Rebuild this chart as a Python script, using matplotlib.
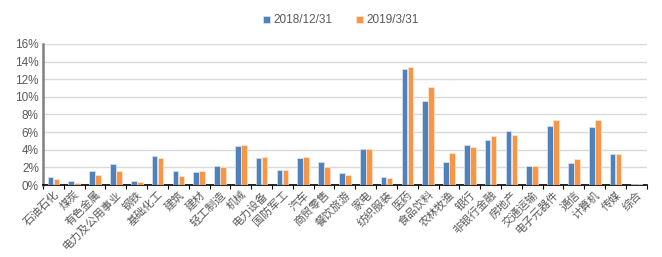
import matplotlib
matplotlib.use("Agg")
import matplotlib.pyplot as plt
import numpy as np

plt.rcParams['font.family'] = ['Noto Sans CJK SC', 'DejaVu Sans']

categories = ["石油石化", "煤炭", "有色金属", "电力及公用事业", "钢铁", "基础化工", "建筑", "建材",
              "轻工制造", "机械", "电力设备", "国防军工", "汽车", "商贸零售", "餐饮旅游", "家电",
              "纺织服装", "医药", "食品饮料", "农林牧渔", "银行", "非银行金融", "房地产", "交通运输",
              "电子元器件", "通信", "计算机", "传媒", "综合"]
s2018 = [0.90, 0.45, 1.55, 2.35, 0.45, 3.30, 1.60, 1.48, 2.12, 4.39, 3.03, 1.74, 3.10, 2.58, 1.36,
         4.13, 0.87, 13.18, 9.55, 2.61, 4.55, 5.15, 6.17, 2.12, 6.70, 2.46, 6.63, 3.52, 0.08]
s2019 = [0.72, 0.27, 1.17, 1.60, 0.38, 3.07, 1.06, 1.60, 2.00, 4.50, 3.18, 1.70, 3.18, 2.05, 1.14,
         4.13, 0.80, 13.37, 11.10, 3.64, 4.28, 5.53, 5.64, 2.16, 7.42, 2.92, 7.39, 3.48, 0.15]
series_names = ["2018/12/31", "2019/3/31"]
yticks = [0, 2, 4, 6, 8, 10, 12, 14, 16]

fig = plt.figure(figsize=(6.62, 2.57), dpi=100)
ax = fig.add_axes([0.065, 0.28, 0.912, 0.549])

x = np.arange(len(categories))
w = 0.27
c1, c2 = "#4F81BD", "#F79646"
b1 = ax.bar(x - 0.145, s2018, width=w, color=c1, edgecolor="#DCE6F2", linewidth=0.5, label=series_names[0], zorder=3)
b2 = ax.bar(x + 0.145, s2019, width=w, color=c2, edgecolor="#FDE9D9", linewidth=0.5, label=series_names[1], zorder=3)

ax.set_xlim(-0.5, len(categories) - 0.5)
ax.set_ylim(0, 16)
ax.set_yticks(yticks)
ax.set_yticklabels([f"{v}%" for v in yticks], fontsize=8.5, color="#595959", family=["Liberation Sans", "DejaVu Sans"])
ax.yaxis.grid(True, color="#D9D9D9", linewidth=1, zorder=0)
ax.tick_params(axis='y', length=0, pad=3)

ax.set_xticks(x)
ax.set_xticklabels(categories, rotation=45, ha='right', rotation_mode='anchor', fontsize=8, color="#595959")
ax.tick_params(axis='x', which='major', length=0, pad=3)
ax.set_xticks(np.arange(-0.5, len(categories) + 0.5, 1), minor=True)
ax.tick_params(axis='x', which='minor', length=3, color="#000000", width=0.8, direction='out')

for s in ['top', 'right']:
    ax.spines[s].set_visible(False)
ax.spines['left'].set_color("#808080")
ax.spines['left'].set_linewidth(1.8)
ax.spines['bottom'].set_color("#000000")
ax.spines['bottom'].set_linewidth(1.2)

leg = fig.legend(handles=[b1, b2], loc='upper center', bbox_to_anchor=(0.515, 0.985), ncol=2, frameon=False,
                 handlelength=0.6, handleheight=0.6, handletextpad=0.3, columnspacing=2.0,
                 prop={'family': ['Liberation Sans', 'DejaVu Sans'], 'size': 8.5})
for t in leg.get_texts():
    t.set_color("#595959")

fig.savefig("out.png", dpi=100)
